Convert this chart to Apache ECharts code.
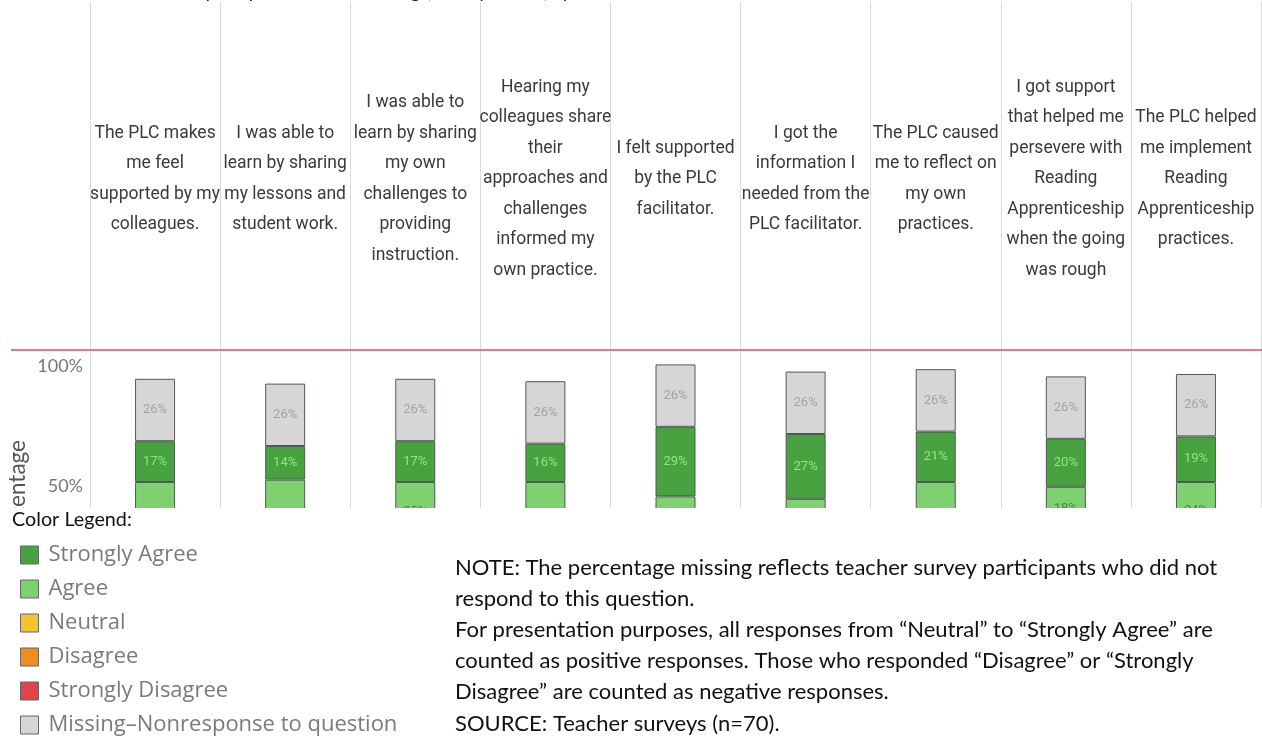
<!DOCTYPE html>
<html>
<head>
<meta charset="utf-8">
<script src="https://cdn.jsdelivr.net/npm/echarts@6/dist/echarts.min.js"></script>
<style>
html,body{margin:0;padding:0;background:#fff;}
#chart{width:1262px;height:736px;}
</style>
</head>
<body>
<div id="chart"></div>
<script>
const categories = [
  "The PLC makes\nme feel\nsupported by my\ncolleagues.",
  "I was able to\nlearn by sharing\nmy lessons and\nstudent work.",
  "I was able to\nlearn by sharing\nmy own\nchallenges to\nproviding\ninstruction.",
  "Hearing my\ncolleagues share\ntheir\napproaches and\nchallenges\ninformed my\nown practice.",
  "I felt supported\nby the PLC\nfacilitator.",
  "I got the\ninformation I\nneeded from the\nPLC facilitator.",
  "The PLC caused\nme to reflect on\nmy own\npractices.",
  "I got support\nthat helped me\npersevere with\nReading\nApprenticeship\nwhen the going\nwas rough",
  "The PLC helped\nme implement\nReading\nApprenticeship\npractices."
];
const stronglyDisagree = [0, 0, 1, 0, 0, 0, 0, 2, 1];
const disagree         = [3, 3, 6, 3, 2, 2, 2, 6, 6];
const neutral          = [9, 8, 18, 10, 6, 6, 9, 22, 19];
const agree            = [38, 40, 25, 37, 36, 35, 39, 18, 24];
const stronglyAgree    = [17, 14, 17, 16, 29, 27, 21, 20, 19];
const missing          = [26, 26, 26, 26, 26, 26, 26, 26, 26];
const yTicks = [50, 100];

const legendNames = ["Strongly Agree", "Agree", "Neutral", "Disagree", "Strongly Disagree", "Missing\u2013Nonresponse to question"];
const colors = {
  "Strongly Agree": "#47a23f",
  "Agree": "#7dd16f",
  "Neutral": "#f3c431",
  "Disagree": "#f28c1f",
  "Strongly Disagree": "#e0444a",
  "Missing\u2013Nonresponse to question": "#d6d6d6"
};
const noteLines = [
  "NOTE: The percentage missing reflects teacher survey participants who did not",
  "respond to this question.",
  "For presentation purposes, all responses from \u201cNeutral\u201d to \u201cStrongly Agree\u201d are",
  "counted as positive responses. Those who responded \u201cDisagree\u201d or \u201cStrongly",
  "Disagree\u201d are counted as negative responses.",
  "SOURCE: Teacher surveys (n=70)."
];

const chart = echarts.init(document.getElementById('chart'));
const seriesDefs = [
  ["Strongly Disagree", stronglyDisagree, null],
  ["Disagree", disagree, null],
  ["Neutral", neutral, null],
  ["Agree", agree, "#3f8f3a"],
  ["Strongly Agree", stronglyAgree, "#93e585"],
  ["Missing\u2013Nonresponse to question", missing, "#a3a3a3"]
];
const series = seriesDefs.map(([name, data, lc]) => ({
  name: name,
  type: 'bar',
  stack: 'all',
  data: data,
  barWidth: 40,
  itemStyle: {color: colors[name], borderColor: '#505a55', borderWidth: 1},
  label: {
    show: !!lc,
    position: 'inside',
    formatter: '{c}%',
    color: lc || '#000',
    fontSize: 13,
    fontFamily: 'Roboto'
  }
}));

chart.setOption({
  animation: false,
  backgroundColor: '#fff',
  grid: {left: 90, right: 1, top: 2, bottom: 134},
  xAxis: {
    type: 'category',
    data: categories,
    position: 'top',
    axisLine: {show: false},
    axisTick: {show: false},
    splitLine: {show: true, lineStyle: {color: '#dadada', width: 1}},
    axisLabel: {
      interval: 0,
      margin: -177,
      verticalAlign: 'middle',
      lineHeight: 30.5,
      fontSize: 17.5,
      color: '#3a3a3a',
      fontFamily: 'Roboto'
    }
  },
  yAxis: {
    type: 'value',
    min: 0, max: 250, interval: 50,
    axisLine: {show: false},
    axisTick: {show: false},
    splitLine: {show: false},
    axisLabel: {
      margin: 7,
      formatter: v => yTicks.indexOf(v) >= 0 ? '{t|' + v + '%}' : '',
      rich: {
        t: {fontSize: 18, color: '#777', fontFamily: 'Lato', padding: [8, 0, 0, 0]}
      }
    }
  },
  legend: {
    data: legendNames,
    orient: 'vertical',
    left: 20,
    top: 544,
    height: 192,
    padding: 0,
    itemWidth: 18,
    itemHeight: 18,
    itemGap: 12,
    icon: 'rect',
    selectedMode: false,
    z: 30,
    itemStyle: {borderColor: '#666', borderWidth: 1},
    textStyle: {fontSize: 22, color: '#7a7a7a', fontFamily: 'Open Sans', padding: [0, 0, 0, 5]}
  },
  graphic: [
    {type: 'text', z: 15, x: 18, y: 495, rotation: Math.PI / 2, style: {text: 'Percentage', fontSize: 22.5, fill: '#555', fontFamily: 'Lato', align: 'center', verticalAlign: 'middle'}},
    {type: 'rect', z: 20, shape: {x: 0, y: 508, width: 1262, height: 228}, style: {fill: '#fff'}},
    {type: 'line', z: 21, shape: {x1: 11, y1: 350, x2: 1262, y2: 350}, style: {stroke: '#e8787b', lineWidth: 2}},
    {type: 'text', z: 21, left: 62, top: -18, style: {text: 'Exhibit 5. Teacher perceptions of PLC meetings, survey results, by item', fontSize: 19, fontStyle: 'italic', fill: '#111', fontFamily: 'Lato'}},
    {type: 'text', z: 21, left: 12, top: 510, style: {text: 'Color Legend:', fontSize: 19.8, fill: '#111', fontFamily: 'Lato'}},
    {type: 'text', z: 21, left: 455, top: 552, style: {text: noteLines.join('\n'), fontSize: 22, lineHeight: 31.2, fill: '#111', fontFamily: 'Lato'}}
  ],
  series: series
});
</script>
</body>
</html>
